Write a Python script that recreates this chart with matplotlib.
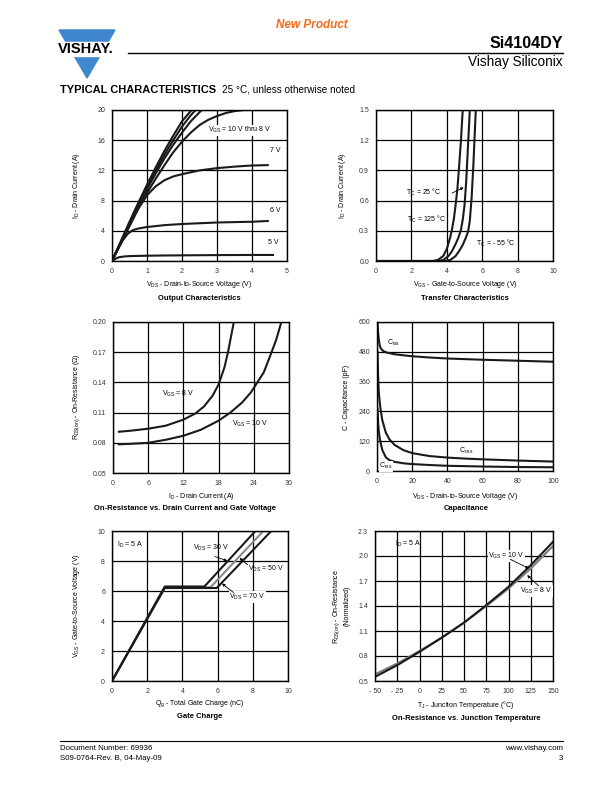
import matplotlib
matplotlib.use("Agg")
import matplotlib.pyplot as plt
from matplotlib.patches import Polygon, Rectangle
from matplotlib.lines import Line2D

plt.rcParams["font.family"] = ["Liberation Sans", "DejaVu Sans"]
plt.rcParams["mathtext.fontset"] = "custom"
plt.rcParams["mathtext.rm"] = "Liberation Sans"
plt.rcParams["mathtext.it"] = "Liberation Sans:italic"
plt.rcParams["mathtext.bf"] = "Liberation Sans:bold"

# ---- Output characteristics (ID vs VDS)
vds_10 = [0, 0.25, 0.5, 0.75, 1.0, 1.25, 1.5, 1.75, 2.0, 2.2, 2.35]
id_10 = [0, 2.6, 5.2, 7.7, 10.1, 12.4, 14.6, 16.6, 18.5, 19.6, 20.4]
vds_9 = [0, 0.25, 0.5, 0.75, 1.0, 1.25, 1.5, 1.75, 2.0, 2.25, 2.45]
id_9 = [0, 2.5, 5.0, 7.5, 9.8, 12.0, 14.1, 16.0, 17.8, 19.3, 20.3]
vds_8 = [0, 0.25, 0.5, 0.75, 1.0, 1.25, 1.5, 1.75, 2.0, 2.25, 2.5, 2.6]
id_8 = [0, 2.4, 4.8, 7.2, 9.5, 11.6, 13.6, 15.4, 17.0, 18.5, 19.7, 20.2]
vds_8b = [0, 0.25, 0.5, 0.75, 1.0, 1.25, 1.5, 1.75, 2.0, 2.25, 2.5, 2.75, 3.0, 3.25, 3.5, 3.75]
id_8b = [0, 2.4, 4.8, 7.0, 9.0, 10.9, 12.7, 14.4, 15.8, 17.0, 18.0, 18.7, 19.2, 19.6, 19.85, 20.0]
vds_7 = [0, 0.25, 0.5, 0.75, 1.0, 1.25, 1.5, 1.75, 2.0, 2.5, 3.0, 3.5, 4.0, 4.45]
id_7 = [0, 2.3, 4.6, 6.9, 8.7, 9.9, 10.7, 11.2, 11.5, 12.0, 12.3, 12.5, 12.65, 12.7]
vds_6 = [0, 0.15, 0.3, 0.45, 0.6, 0.75, 1.0, 1.5, 2.0, 2.5, 3.0, 3.5, 4.0, 4.45]
id_6 = [0, 1.4, 2.7, 3.6, 4.1, 4.3, 4.5, 4.75, 4.9, 5.0, 5.1, 5.15, 5.2, 5.3]
vds_5 = [0, 0.1, 0.2, 0.35, 0.5, 1.0, 1.5, 2.0, 3.0, 4.0, 4.6]
id_5 = [0, 0.3, 0.5, 0.6, 0.65, 0.7, 0.73, 0.75, 0.78, 0.8, 0.8]

# ---- Transfer characteristics (ID vs VGS)
vgs_125 = [0, 3.2, 3.5, 3.8, 4.0, 4.2, 4.3, 4.4, 4.5, 4.6, 4.7, 4.8, 4.9]
idt_125 = [0, 0, 0.01, 0.05, 0.12, 0.24, 0.32, 0.42, 0.56, 0.72, 0.95, 1.2, 1.5]
vgs_25 = [0, 3.5, 3.8, 4.1, 4.3, 4.5, 4.65, 4.8, 4.9, 5.0, 5.1, 5.2, 5.3]
idt_25 = [0, 0, 0.01, 0.05, 0.1, 0.17, 0.23, 0.31, 0.41, 0.55, 0.8, 1.15, 1.5]
vgs_m55 = [0, 3.9, 4.2, 4.5, 4.7, 4.9, 5.05, 5.2, 5.3, 5.4, 5.5, 5.6, 5.65]
idt_m55 = [0, 0, 0.01, 0.05, 0.1, 0.16, 0.22, 0.29, 0.4, 0.62, 0.95, 1.35, 1.55]

# ---- On-resistance vs drain current
id_r8 = [1, 3, 6, 9, 12, 14, 15.5, 17, 18, 19, 19.6, 20.1, 20.6]
rds_8 = [0.091, 0.092, 0.094, 0.097, 0.103, 0.109, 0.116, 0.127, 0.138, 0.155, 0.17, 0.185, 0.20]
id_r10 = [1, 3, 6, 9, 12, 15, 18, 20, 22, 23.5, 24.5, 25.7, 26.7, 27.8, 28.7]
rds_10 = [0.0785, 0.079, 0.080, 0.083, 0.087, 0.093, 0.102, 0.110, 0.120, 0.130, 0.139, 0.150, 0.165, 0.182, 0.20]

# ---- Capacitance
v_ciss = [0.3, 0.6, 1, 1.5, 2, 3, 5, 10, 20, 30, 40, 60, 80, 100]
ciss = [595, 560, 530, 508, 496, 486, 478, 470, 462, 457, 453, 448, 444, 440]
v_coss = [0.3, 0.6, 1, 1.5, 2, 3, 5, 7, 10, 15, 20, 30, 40, 50, 60, 80, 100]
coss = [480, 390, 320, 280, 250, 205, 155, 128, 105, 84, 72, 60, 54, 50, 47, 42, 38]
v_crss = [0.3, 0.6, 1, 1.5, 2, 3, 5, 7, 10, 15, 20, 30, 40, 60, 80, 100]
crss = [250, 200, 160, 135, 115, 85, 55, 44, 37, 31, 28, 24, 21, 18, 16, 15]

# ---- Gate charge
qg_30 = [0, 3.0, 5.25, 8.15]
vg_30 = [0, 6.3, 6.3, 10]
qg_50 = [0, 3.0, 5.6, 8.6]
vg_50 = [0, 6.25, 6.25, 10]
qg_70 = [0, 3.0, 5.95, 9.05]
vg_70 = [0, 6.2, 6.2, 10]

# ---- On-resistance vs junction temperature
tj = [-50, -25, 0, 25, 50, 75, 100, 125, 150]
rn_10 = [0.55, 0.69, 0.85, 1.02, 1.2, 1.41, 1.63, 1.89, 2.17]
rn_8 = [0.58, 0.71, 0.86, 1.02, 1.2, 1.4, 1.61, 1.85, 2.12]

W, H = 612, 792
fig = plt.figure(figsize=(6.12, 7.92), dpi=100)


def fx(px):
    return px / W


def fy(py):
    return 1 - py / H


def text(px, py, s, **kw):
    fig.text(fx(px), fy(py), s, **kw)


def make_axes(l, t, r, b, xlim, ylim, xticks, yticks, xlabels, ylabels):
    ax = fig.add_axes([fx(l), fy(b), (r - l) / W, (b - t) / H])
    ax.set_xlim(xlim)
    ax.set_ylim(ylim)
    ax.set_xticks(xticks)
    ax.set_yticks(yticks)
    ax.set_xticklabels(xlabels)
    ax.set_yticklabels(ylabels)
    ax.tick_params(length=0, labelsize=5, pad=5, colors="#333333")
    ax.grid(True, color="black", lw=0.9)
    for s in ax.spines.values():
        s.set_linewidth(1.0)
    return ax


def pointer(ax, tail, tip):
    # small arrow from a label to its curve
    ax.annotate("", xy=tip, xytext=tail,
                arrowprops=dict(arrowstyle="-|>", color="black", lw=0.6,
                                mutation_scale=4, shrinkA=0, shrinkB=0))


LW = 1.5
FS = 5
sub = lambda s: r"$\mathregular{_{%s}}$" % s

# header
text(312, 25, "New Product", color="#f26a1b", fontsize=8.5, fontweight="bold",
     fontstyle="italic", ha="center", va="center")
fig.patches.append(Polygon([[fx(59), fy(30)], [fx(115), fy(30)], [fx(87), fy(78)]],
                           closed=True, transform=fig.transFigure, color="#3f88cf"))
fig.patches.append(Rectangle((fx(55), fy(56)), fx(66), 14 / H,
                             transform=fig.transFigure, color="white"))
text(86, 49, "VISHAY.", fontsize=10.5, fontweight="bold", ha="center", va="center")
fig.lines.append(Line2D([fx(128), fx(563)], [fy(53), fy(53)], transform=fig.transFigure,
                        color="black", lw=1.0))
text(563, 43, "Si4104DY", fontsize=11.5, fontweight="bold", ha="right", va="center")
text(563, 62, "Vishay Siliconix", fontsize=9.8, ha="right", va="center")
text(60, 90, "TYPICAL CHARACTERISTICS", fontsize=8, fontweight="bold", va="center")
text(222, 90, "25 °C, unless otherwise noted", fontsize=7.2, va="center")

# footer
fig.lines.append(Line2D([fx(60), fx(563)], [fy(741), fy(741)], transform=fig.transFigure,
                        color="black", lw=0.8))
text(60, 749, "Document Number: 69936", fontsize=5.7, va="center")
text(60, 759, "S09-0764-Rev. B, 04-May-09", fontsize=5.7, va="center")
text(563, 749, "www.vishay.com", fontsize=5.7, va="center", ha="right")
text(563, 759, "3", fontsize=5.7, va="center", ha="right")

# 1 - output characteristics
ax1 = make_axes(112, 110, 287, 261, (0, 5), (0, 20), range(6), range(0, 21, 4),
                [str(v) for v in range(6)], [str(v) for v in range(0, 21, 4)])
for x, y in [(vds_10, id_10), (vds_9, id_9), (vds_8, id_8), (vds_8b, id_8b),
             (vds_7, id_7), (vds_6, id_6), (vds_5, id_5)]:
    ax1.plot(x, y, color="#1a1a1a", lw=LW)
ax1.text(2.75, 17.3, "V" + sub("GS") + " = 10 V thru 8 V", fontsize=FS, va="center",
         bbox=dict(fc="white", ec="none", pad=0.5))
ax1.text(4.5, 14.7, "7 V", fontsize=FS, va="center")
ax1.text(4.5, 6.7, "6 V", fontsize=FS, va="center")
ax1.text(4.45, 2.4, "5 V", fontsize=FS, va="center")
text(199, 285, "V" + sub("DS") + " - Drain-to-Source Voltage (V)", fontsize=FS, ha="center", va="center")
text(199, 298, "Output Characteristics", fontsize=5.5, fontweight="bold", ha="center", va="center")
text(77, 186, "I" + sub("D") + " - Drain Current (A)", fontsize=FS, rotation=90, ha="center", va="center")

# 2 - transfer characteristics
ax2 = make_axes(376, 110, 553, 261, (0, 10), (0, 1.5), range(0, 11, 2),
                [0, 0.3, 0.6, 0.9, 1.2, 1.5], [str(v) for v in range(0, 11, 2)],
                ["0.0", "0.3", "0.6", "0.9", "1.2", "1.5"])
for x, y in [(vgs_125, idt_125), (vgs_25, idt_25), (vgs_m55, idt_m55)]:
    ax2.plot(x, y, color="#1a1a1a", lw=LW)
ax2.text(1.7, 0.68, "T" + sub("C") + " = 25 °C", fontsize=FS, va="center")
pointer(ax2, (4.3, 0.675), (4.95, 0.73))
ax2.text(1.75, 0.41, "T" + sub("C") + " = 125 °C", fontsize=FS, va="center")
ax2.text(5.65, 0.17, "T" + sub("C") + " = - 55 °C", fontsize=FS, va="center")
text(465, 285, "V" + sub("GS") + " - Gate-to-Source Voltage (V)", fontsize=FS, ha="center", va="center")
text(465, 298, "Transfer Characteristics", fontsize=5.5, fontweight="bold", ha="center", va="center")
text(343, 186, "I" + sub("D") + " - Drain Current (A)", fontsize=FS, rotation=90, ha="center", va="center")

# 3 - on-resistance vs drain current
ax3 = make_axes(113, 322, 289, 473, (0, 30), (0.05, 0.20), range(0, 31, 6),
                [0.05, 0.08, 0.11, 0.14, 0.17, 0.20], [str(v) for v in range(0, 31, 6)],
                ["0.05", "0.08", "0.11", "0.14", "0.17", "0.20"])
ax3.plot(id_r8, rds_8, color="#1a1a1a", lw=LW)
ax3.plot(id_r10, rds_10, color="#1a1a1a", lw=LW)
ax3.text(8.3, 0.129, "V" + sub("GS") + " = 8 V", fontsize=FS, va="center")
ax3.text(20.3, 0.099, "V" + sub("GS") + " = 10 V", fontsize=FS, va="center")
text(201, 497, "I" + sub("D") + " - Drain Current (A)", fontsize=FS, ha="center", va="center")
text(185, 509, "On-Resistance vs. Drain Current and Gate Voltage", fontsize=5.5,
     fontweight="bold", ha="center", va="center")
text(77, 397, "R" + sub("DS(on)") + " - On-Resistance (Ω)", fontsize=FS, rotation=90, ha="center", va="center")

# 4 - capacitance
ax4 = make_axes(377, 322, 553, 471, (0, 100), (0, 600), range(0, 101, 20),
                range(0, 601, 120), [str(v) for v in range(0, 101, 20)],
                [str(v) for v in range(0, 601, 120)])
ax4.plot(v_ciss, ciss, color="#1a1a1a", lw=LW)
ax4.plot(v_coss, coss, color="#1a1a1a", lw=LW)
ax4.plot(v_crss, crss, color="#1a1a1a", lw=LW)
ax4.text(5.7, 515, "C" + sub("iss"), fontsize=FS, va="center")
ax4.text(46.5, 80, "C" + sub("oss"), fontsize=FS, va="center")
ax4.text(1.2, 20, "C" + sub("rss"), fontsize=FS, va="center",
         bbox=dict(fc="white", ec="none", pad=0.3))
text(465, 497, "V" + sub("DS") + " - Drain-to-Source Voltage (V)", fontsize=FS, ha="center", va="center")
text(466, 509, "Capacitance", fontsize=5.5, fontweight="bold", ha="center", va="center")
text(346, 397, "C - Capacitance (pF)", fontsize=FS, rotation=90, ha="center", va="center")

# 5 - gate charge
ax5 = make_axes(112, 531, 288, 681, (0, 10), (0, 10), range(0, 11, 2), range(0, 11, 2),
                [str(v) for v in range(0, 11, 2)], [str(v) for v in range(0, 11, 2)])
ax5.plot(qg_50, vg_50, color="#8a8a8a", lw=LW)
ax5.plot(qg_70, vg_70, color="#1a1a1a", lw=LW)
ax5.plot(qg_30, vg_30, color="#1a1a1a", lw=LW)
ax5.text(0.3, 9.1, "I" + sub("D") + " = 5 A", fontsize=FS, va="center")
ax5.text(4.6, 8.85, "V" + sub("DS") + " = 30 V", fontsize=FS, va="center")
pointer(ax5, (5.85, 8.3), (6.55, 8.0))
ax5.text(7.7, 7.45, "V" + sub("DS") + " = 50 V", fontsize=FS, va="center")
pointer(ax5, (7.7, 7.75), (7.25, 8.2))
ax5.text(6.65, 5.6, "V" + sub("DS") + " = 70 V", fontsize=FS, va="center",
         bbox=dict(fc="white", ec="none", pad=0.3))
pointer(ax5, (6.9, 5.9), (6.25, 6.5))
text(200, 704, "Q" + sub("g") + " - Total Gate Charge (nC)", fontsize=FS, ha="center", va="center")
text(200, 717, "Gate Charge", fontsize=5.5, fontweight="bold", ha="center", va="center")
text(77, 606, "V" + sub("GS") + " - Gate-to-Source Voltage (V)", fontsize=FS, rotation=90, ha="center", va="center")

# 6 - on-resistance vs junction temperature
ax6 = make_axes(375, 531, 553, 681, (-50, 150), (0.5, 2.3), range(-50, 151, 25),
                [0.5, 0.8, 1.1, 1.4, 1.7, 2.0, 2.3],
                ["- 50", "- 25", "0", "25", "50", "75", "100", "125", "150"],
                ["0.5", "0.8", "1.1", "1.4", "1.7", "2.0", "2.3"])
ax6.plot(tj, rn_8, color="#7a7a7a", lw=LW)
ax6.plot(tj, rn_10, color="#1a1a1a", lw=LW)
ax6.text(-27, 2.14, "I" + sub("D") + " = 5 A", fontsize=FS, va="center")
ax6.text(77, 2.0, "V" + sub("GS") + " = 10 V", fontsize=FS, va="center",
         bbox=dict(fc="white", ec="none", pad=0.3))
pointer(ax6, (102, 1.96), (123, 1.85))
ax6.text(113, 1.58, "V" + sub("GS") + " = 8 V", fontsize=FS, va="center",
         bbox=dict(fc="white", ec="none", pad=0.3))
pointer(ax6, (134, 1.64), (121, 1.77))
text(466, 705, "T" + sub("J") + " - Junction Temperature (°C)", fontsize=FS, ha="center", va="center")
text(466, 718, "On-Resistance vs. Junction Temperature", fontsize=5.5, fontweight="bold",
     ha="center", va="center")
text(341, 606, "R" + sub("DS(on)") + " - On-Resistance\n(Normalized)", fontsize=FS, rotation=90,
     ha="center", va="center", multialignment="center")

fig.savefig("out.png", dpi=100)
